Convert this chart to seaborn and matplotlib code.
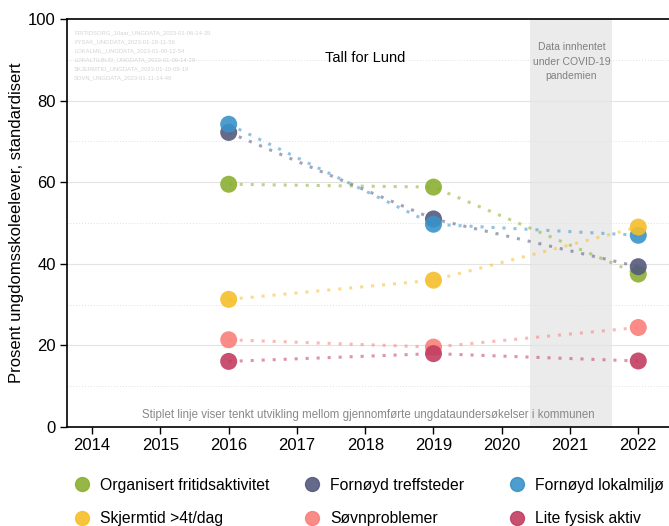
import matplotlib.pyplot as plt
import pandas as pd
import seaborn as sns
from matplotlib.lines import Line2D

YEARS = [2016, 2019, 2022]
INDICATORS = [
    "Organisert fritidsaktivitet",
    "Fornøyd treffsteder",
    "Fornøyd lokalmiljø",
    "Skjermtid >4t/dag",
    "Søvnproblemer",
    "Lite fysisk aktiv",
]
ORGANISERT = [59.5, 58.8, 37.5]
TREFFSTEDER = [72.2, 51.0, 39.3]
LOKALMILJO = [74.2, 49.7, 47.0]
SKJERMTID = [31.3, 36.0, 49.0]
SOVN = [21.4, 19.6, 24.4]
FYSISK = [16.1, 18.0, 16.2]
COLORS = ["#8bb031", "#555a7c", "#3a92c9", "#f6bf2b", "#f9807a", "#c23d62"]
SOURCES = [
    "FRITIDSORG_10aar_UNGDATA_2023-01-06-14-35",
    "FYSAK_UNGDATA_2023-01-18-11-56",
    "LOKALMIL_UNGDATA_2023-01-09-12-54",
    "LOKALTILBUD_UNGDATA_2023-01-09-14-29",
    "SKJERMTID_UNGDATA_2023-01-10-09-19",
    "SOVN_UNGDATA_2023-01-11-14-49",
]

values = [ORGANISERT, TREFFSTEDER, LOKALMILJO, SKJERMTID, SOVN, FYSISK]
df = pd.DataFrame(
    [(name, year, v) for name, series in zip(INDICATORS, values) for year, v in zip(YEARS, series)],
    columns=["indikator", "aar", "verdi"],
)
palette = dict(zip(INDICATORS, COLORS))

sns.set_theme(style="white")
plt.rcParams["font.family"] = ["Liberation Sans", "DejaVu Sans"]
plt.rcParams["text.color"] = "black"

fig = plt.figure(figsize=(6.69, 5.26), dpi=100)
ax = fig.add_axes([0.1, 0.188, 0.9, 0.776])

ax.axvspan(2020.42, 2021.62, color="#ebebeb", zorder=0, lw=0)
for y in [20, 40, 60, 80]:
    ax.axhline(y, color="#e3e3e3", lw=0.8, zorder=0.5)
for y in [10, 30, 50, 70, 90]:
    ax.axhline(y, color="#e0e0e0", lw=0.7, ls=(0, (1, 2)), zorder=0.5)

sns.lineplot(data=df, x="aar", y="verdi", hue="indikator", palette=palette,
             ls=(0, (1, 2.6)), lw=2.2, alpha=0.55, legend=False, ax=ax)
sns.scatterplot(data=df, x="aar", y="verdi", hue="indikator", palette=palette,
                s=150, alpha=0.9, edgecolor="none", legend=False, ax=ax, zorder=3)

ax.set_xlim(2013.63, 2022.45)
ax.set_ylim(0, 100)
ax.set_xticks(range(2014, 2023))
ax.set_yticks(range(0, 101, 20))
ax.tick_params(axis="both", labelsize=12, length=5, width=1, color="black", labelcolor="black",
               direction="out", bottom=True, left=True, pad=3)
ax.set_xlabel("")
ax.set_ylabel("Prosent ungdomsskoleelever, standardisert", fontsize=12, labelpad=3, color="black")
for side in ["left", "bottom", "top"]:
    ax.spines[side].set_color("black")
    ax.spines[side].set_linewidth(1.2)
ax.spines["right"].set_visible(False)

ax.text(2018, 90.5, "Tall for Lund", ha="center", va="center", fontsize=10.5)
ax.text(2021.02, 89.5, "Data innhentet\nunder COVID-19\npandemien", ha="center", va="center",
        fontsize=7.5, color="#808080", linespacing=1.55)
ax.text(2018.05, 2.9, "Stiplet linje viser tenkt utvikling mellom gjennomførte ungdataundersøkelser i kommunen",
        ha="center", va="center", fontsize=8.3, color="#888888")
for i, src in enumerate(SOURCES):
    ax.text(0.012, 0.966 - i * 0.0222, src, transform=ax.transAxes, fontsize=4.2,
            color="#d4d4d4", va="center")

# legend in three fixed columns, row-wise order
col_x = [0.101, 0.445, 0.752]
for c, x0 in enumerate(col_x):
    idx = [c, c + 3]
    handles = [Line2D([], [], marker="o", ls="", color=COLORS[i], markersize=10, alpha=0.9) for i in idx]
    fig.legend(handles, [INDICATORS[i] for i in idx], loc="upper left", bbox_to_anchor=(x0, 0.101),
               frameon=False, fontsize=11.3, handletextpad=0.55, handlelength=1.2,
               labelspacing=1.2, borderaxespad=0, borderpad=0.3)

fig.savefig("out.png", dpi=100)
